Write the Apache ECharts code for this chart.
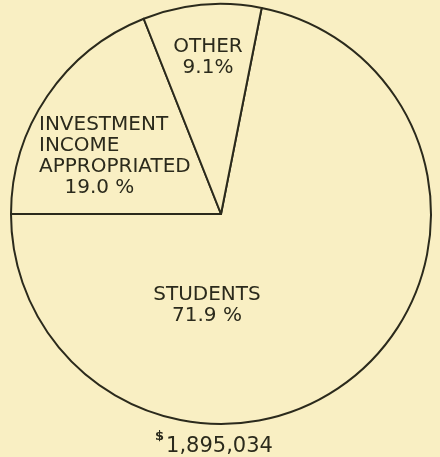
<!DOCTYPE html>
<html>
<head>
<meta charset="utf-8">
<script src="https://cdn.jsdelivr.net/npm/echarts@6/dist/echarts.min.js"></script>
<style>
  html, body { margin: 0; padding: 0; background: #f9efc3; }
  #chart { width: 440px; height: 457px; }
</style>
</head>
<body>
<div id="chart"></div>
<script>
// income sources, percent of total
const categories = ["STUDENTS", "INVESTMENT\nINCOME\nAPPROPRIATED", "OTHER"];
const shares = [71.9, 19.0, 9.1];
const totalLabel = "1,895,034";

const ink = "#2b2a1c";
const paper = "#f9efc3";

// where each label sits inside its slice
const labelPos = [
  { x: 207, y: 305, align: "center" },
  { x: 39, y: 156, align: "left" },
  { x: 208, y: 57, align: "center" },
];

const chart = echarts.init(document.getElementById("chart"));
chart.setOption({
  backgroundColor: paper,
  animation: false,
  title: {
    text: "{s|$}{n|" + totalLabel + "}",
    left: 150,
    top: 425,
    textStyle: {
      fontWeight: "normal",
      rich: {
        s: { fontSize: 13, fontWeight: "bold", color: ink, verticalAlign: "top", padding: [0, 2, 10, 0], fontFamily: "DejaVu Sans" },
        n: { fontSize: 21, fontWeight: "normal", color: ink, fontFamily: "DejaVu Sans", padding: [6, 0, 0, 0] },
      },
    },
  },
  series: [
    {
      type: "pie",
      center: [221, 214],
      radius: [0, 210],
      startAngle: 78.84,
      clockwise: true,
      silent: true,
      itemStyle: { color: paper, borderColor: ink, borderWidth: 2 },
      emphasis: { disabled: true },
      labelLine: { show: false },
      label: {
        show: true,
        position: "inside",
        color: ink,
        fontFamily: "DejaVu Sans",
        fontSize: 20,
        lineHeight: 21,
        formatter: (p) => {
          let pct = p.value.toFixed(1) + (p.dataIndex === 2 ? "%" : " %");
          if (p.dataIndex === 1) pct = "    " + pct;
          return p.name + "\n" + pct;
        },
      },
      labelLayout: (params) => {
        const pos = labelPos[params.dataIndex];
        return { x: pos.x, y: pos.y, align: pos.align, verticalAlign: "middle" };
      },
      data: categories.map((c, i) => ({ name: c, value: shares[i] })),
    },
  ],
});
</script>
</body>
</html>
